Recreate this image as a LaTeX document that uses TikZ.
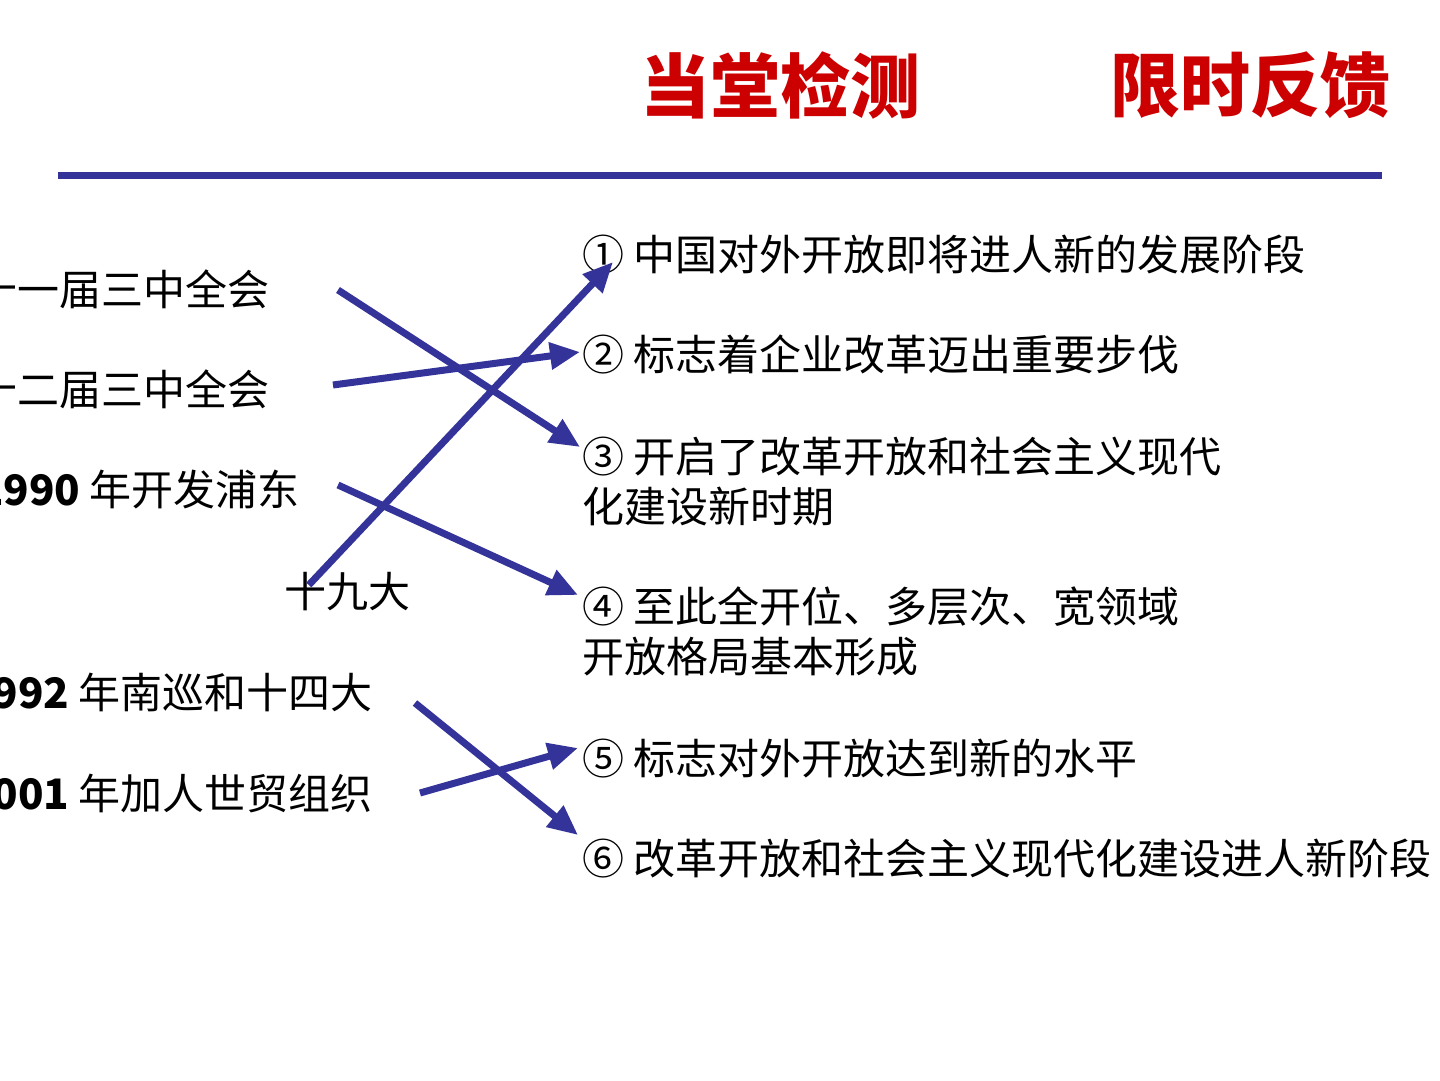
\documentclass[tikz,border=0pt]{standalone}
\usepackage{fontspec}
\setmainfont{Liberation Sans}
\newfontfamily\cjk{Noto Sans CJK SC}
\usetikzlibrary{arrows.meta}
\definecolor{titlered}{RGB}{204,0,0}
\definecolor{lineblue}{RGB}{51,51,153}
\tikzset{
  item/.style={inner sep=0pt,text height=37pt,text depth=5pt,font=\cjk\fontsize{42}{50}\selectfont},
  twoline/.style={inner sep=0pt,align=left,anchor=north west,font=\cjk\fontsize{42}{50}\selectfont},
  match/.style={draw=lineblue,line width=7pt,-{Triangle[length=30pt,width=26pt]}}
}
\begin{document}
\begin{tikzpicture}[x=1pt,y=1pt]
\clip (0,0) rectangle (1440,1080);
% title
\node[font=\cjk\bfseries\fontsize{70}{70}\selectfont,text=titlered,inner sep=0pt] (t1) at (780,995) {当堂检测};
\node[font=\cjk\bfseries\fontsize{70}{70}\selectfont,text=titlered,inner sep=0pt] (t2) at (1250,995) {限时反馈};
\draw[lineblue,line width=7pt] (58,904) -- (1382,904);
% left
\node[item,anchor=east] (l1) at (270,790) {十一届三中全会};
\node[item,anchor=east] (l2) at (270,690) {十二届三中全会};
\node[item,anchor=east] (l3) at (300,590) {\textbf{1990} 年开发浦东};
\node[item] (l4) at (347,488) {十九大};
\node[item,anchor=east] (l5) at (373,388) {\textbf{1992} 年南巡和十四大};
\node[item,anchor=east] (l6) at (373,287) {\textbf{2001} 年加人世贸组织};
% right
\node[item,anchor=west] (r1) at (582,825) {① 中国对外开放即将进人新的发展阶段};
\node[item,anchor=west] (r2) at (582,725) {② 标志着企业改革迈出重要步伐};
\node[twoline] (r3) at (582,643) {③ 开启了改革开放和社会主义现代\\化建设新时期};
\node[twoline] (r4) at (582,493) {④ 至此全开位、多层次、宽领域\\开放格局基本形成};
\node[item,anchor=west] (r5) at (582,322) {⑤ 标志对外开放达到新的水平};
\node[item,anchor=west] (r6) at (582,222) {⑥ 改革开放和社会主义现代化建设进人新阶段};
% arrows
\draw[match] ([xshift=68pt]l1.east) -- ([shift={(-2pt,-10pt)}]r3.north west);
\draw[match] ([shift={(63pt,5pt)}]l2.east) -- ([shift={(-2pt,3pt)}]r2.west);
\draw[match] ([shift={(38pt,5pt)}]l3.east) -- ([shift={(-4pt,-8pt)}]r4.north west);
\draw[match] ([shift={(25pt,7pt)}]l4.west) -- ([shift={(31pt,-7pt)}]r1.west);
\draw[match] ([shift={(42pt,-11pt)}]l5.east) -- ([shift={(-4pt,23pt)}]r6.west);
\draw[match] ([xshift=47pt]l6.east) -- ([shift={(-4pt,10pt)}]r5.west);
\end{tikzpicture}
\end{document}
